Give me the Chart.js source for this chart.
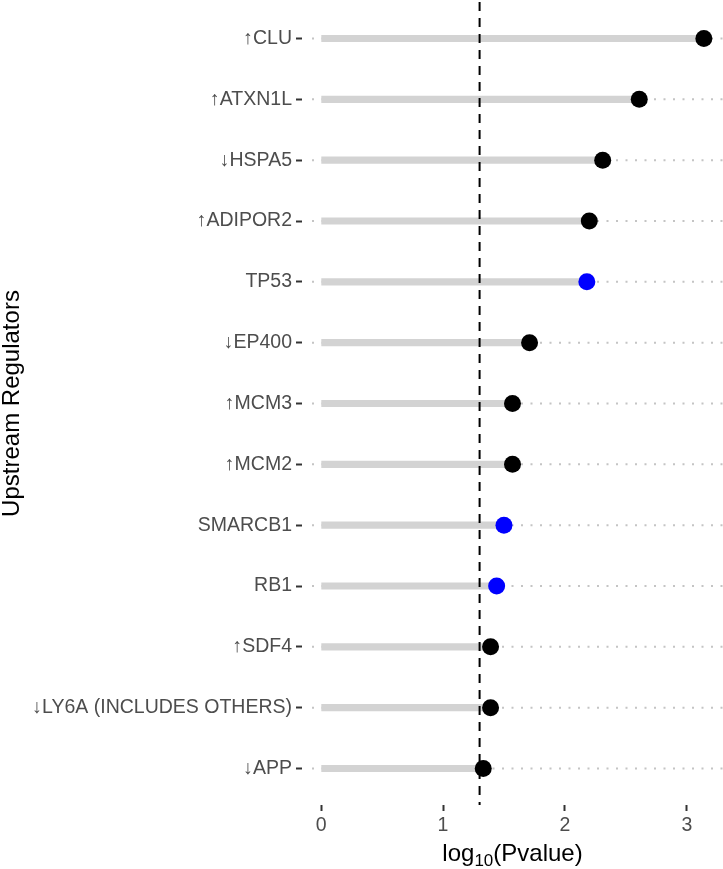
<!DOCTYPE html>
<html>
<head>
<meta charset="utf-8">
<script src="https://cdn.jsdelivr.net/npm/chart.js@4"></script>
<style>
  html, body { margin: 0; padding: 0; background: #fff; }
</style>
</head>
<body>
<canvas id="myChart" width="723" height="869"></canvas>
<script>
// upstream regulators, top to bottom
const regulators = ['↑CLU', '↑ATXN1L', '↓HSPA5', '↑ADIPOR2', 'TP53', '↓EP400', '↑MCM3',
                    '↑MCM2', 'SMARCB1', 'RB1', '↑SDF4', '↓LY6A (INCLUDES OTHERS)', '↓APP'];
const log10P = [3.14, 2.61, 2.31, 2.20, 2.18, 1.71, 1.57, 1.57, 1.50, 1.44, 1.39, 1.39, 1.33];
// regulators with an arrow (direction) are black, the others blue
const hasDirection = [true, true, true, true, false, true, true, true, false, false, true, true, true];
const xTicks = [0, 1, 2, 3];
const threshold = 1.3; // -log10(0.05)

const FONT = '"Liberation Sans", Arial, Helvetica, sans-serif';
const maxVal = Math.max(...log10P);
const points = log10P.map((v, i) => ({ x: v, y: i }));

// dotted guide lines across the panel, under everything
const guideLines = {
  id: 'guideLines',
  beforeDatasetsDraw(chart) {
    const { ctx, chartArea } = chart;
    const y = chart.scales.y;
    ctx.save();
    ctx.strokeStyle = '#C4C4C4';
    ctx.lineWidth = 2;
    ctx.setLineDash([2, 7.5]);
    regulators.forEach((_, i) => {
      const py = y.getPixelForValue(i);
      ctx.beginPath();
      ctx.moveTo(chartArea.left + 10, py);
      ctx.lineTo(chartArea.right, py);
      ctx.stroke();
    });
    ctx.restore();
  },
  // dashed threshold line between the bars and the dots
  afterDatasetDraw(chart, args) {
    if (args.index !== 1) return;
    const { ctx, chartArea } = chart;
    const px = chart.scales.x.getPixelForValue(threshold);
    ctx.save();
    ctx.strokeStyle = '#000';
    ctx.lineWidth = 2;
    ctx.setLineDash([9, 7]);
    ctx.beginPath();
    ctx.moveTo(px, chartArea.top);
    ctx.lineTo(px, chartArea.bottom);
    ctx.stroke();
    ctx.restore();
  },
  // x title with a real subscript
  afterDraw(chart) {
    const { ctx, chartArea } = chart;
    const big = '24px ' + FONT, small = '17px ' + FONT;
    const parts = [['log', big, 0], ['10', small, 5], ['(Pvalue)', big, 0]];
    ctx.save();
    ctx.fillStyle = '#000';
    ctx.textBaseline = 'alphabetic';
    let total = 0;
    parts.forEach(p => { ctx.font = p[1]; total += ctx.measureText(p[0]).width; });
    let x = (chartArea.left + chartArea.right) / 2 - total / 2;
    const base = 861;
    parts.forEach(p => {
      ctx.font = p[1];
      ctx.fillText(p[0], x, base + p[2]);
      x += ctx.measureText(p[0]).width;
    });
    ctx.restore();
  }
};

const noEdgePadding = s => { s.paddingTop = 0; s.paddingBottom = 0; s.paddingLeft = 0; s.paddingRight = 0; };

const ctx = document.getElementById('myChart').getContext('2d');

const myChart = new Chart(ctx, {
  type: 'bar',
  data: {
    datasets: [
      {
        type: 'line',
        data: points,
        showLine: false,
        pointRadius: 8.5,
        pointHoverRadius: 8.5,
        pointBorderWidth: 0,
        pointBackgroundColor: hasDirection.map(d => d ? '#000000' : '#0000FF'),
        order: 0
      },
      {
        type: 'bar',
        data: points,
        backgroundColor: '#D3D3D3',
        barThickness: 6.5,
        order: 1
      }
    ]
  },
  options: {
    indexAxis: 'y',
    responsive: false,
    animation: false,
    layout: { autoPadding: false, padding: { top: 2, right: 0, bottom: 0, left: 0 } },
    plugins: { legend: { display: false }, tooltip: { enabled: false } },
    scales: {
      x: {
        type: 'linear',
        min: -0.05 * maxVal,
        max: 1.05 * maxVal,
        afterBuildTicks: s => { s.ticks = xTicks.map(v => ({ value: v })); },
        afterFit: s => { s.height = 64; noEdgePadding(s); },
        grid: { drawOnChartArea: false, tickLength: 6, tickColor: '#333333', tickWidth: 2 },
        border: { display: false },
        ticks: { color: '#4D4D4D', font: { family: FONT, size: 19.5 }, padding: 3 },
        title: { display: false }
      },
      y: {
        type: 'linear',
        reverse: true,
        offset: false,
        min: -0.6,
        max: regulators.length - 1 + 0.6,
        afterBuildTicks: s => { s.ticks = regulators.map((_, i) => ({ value: i })); },
        afterFit: s => { s.width = 302; noEdgePadding(s); },
        grid: { offset: false, drawOnChartArea: false, tickLength: 6, tickColor: '#333333', tickWidth: 2 },
        border: { display: false },
        ticks: {
          autoSkip: false,
          color: '#4D4D4D',
          font: { family: FONT, size: 19.5 },
          padding: 4,
          callback: v => regulators[v]
        },
        title: {
          display: true,
          text: 'Upstream Regulators',
          color: '#000',
          font: { family: FONT, size: 24, lineHeight: 1 },
          padding: 0
        }
      }
    }
  },
  plugins: [guideLines]
});
</script>
</body>
</html>
